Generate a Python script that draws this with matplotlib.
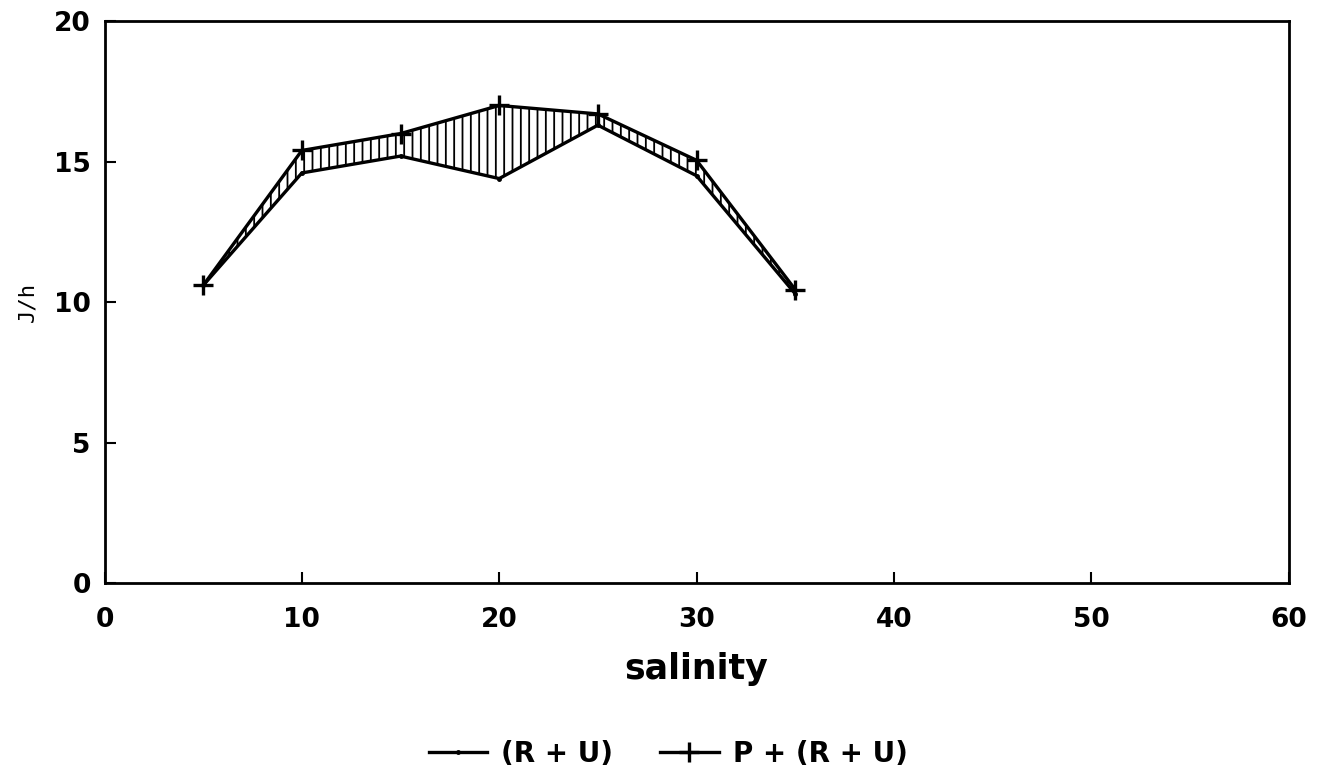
#! /usr/bin/env python

import numpy as np
import matplotlib.pyplot as plt

# salinity steps and energy budget terms (J/h)
salinity = [5, 10, 15, 20, 25, 30, 35]
ru = [10.6, 14.6, 15.2, 14.4, 16.3, 14.5, 10.3]         # R + U
pru = [10.6, 15.4, 16.0, 17.0, 16.7, 15.05, 10.45]     # P + (R + U)

xticks = [0, 10, 20, 30, 40, 50, 60]
yticks = [0, 5, 10, 15, 20]

plt.rcParams['font.family'] = ['DejaVu Sans']
plt.rcParams['hatch.linewidth'] = 1.3

fig = plt.figure(figsize=[13.23, 7.84], dpi=100)
ax = fig.add_axes([0.079, 0.256, 0.895, 0.717])

# hatched band = production P between the two curves
ax.fill_between(salinity, ru, pru, facecolor='white', edgecolor='black',
                hatch='||', linewidth=0)

ax.plot(salinity, ru, color='k', lw=2.4, marker='.', ms=5,
        label='(R + U)')
ax.plot(salinity, pru, color='k', lw=2.4, marker='+', ms=15, mew=2.4,
        label='P + (R + U)')

ax.set_xlim(0, 60)
ax.set_ylim(0, 20)
ax.set_xticks(xticks)
ax.set_yticks(yticks)
ax.tick_params(direction='in', length=8, width=1.5, labelsize=19)
ax.tick_params(axis='x', pad=17)
ax.tick_params(axis='y', pad=10)
for lab in ax.get_xticklabels() + ax.get_yticklabels():
    lab.set_fontweight('bold')
for s in ax.spines.values():
    s.set_linewidth(2)

ax.set_xlabel('salinity', fontsize=25, fontweight='bold', labelpad=14)
ax.set_ylabel('J/h', fontsize=16, family='DejaVu Sans Mono', labelpad=12)

leg = fig.legend(loc='center', bbox_to_anchor=(0.505, 0.038), ncol=2,
                 frameon=False, handlelength=2.1,
                 columnspacing=1.7, handletextpad=0.5,
                 prop={'weight': 'bold', 'size': 20})

plt.savefig('out.png', dpi=100)
